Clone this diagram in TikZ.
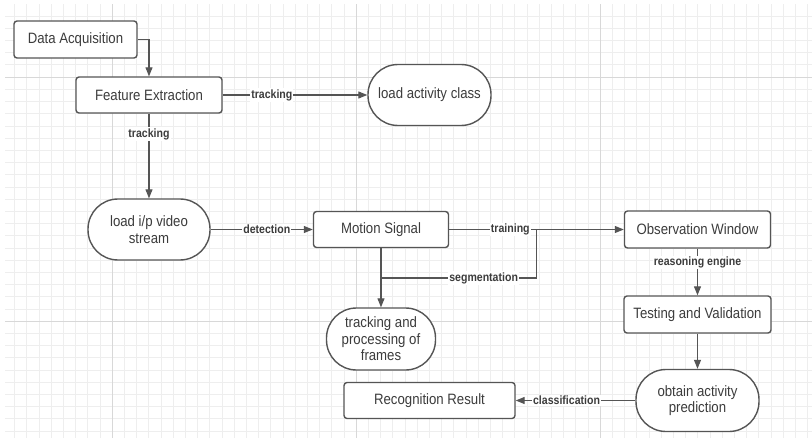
\documentclass[tikz,border=0pt]{standalone}
\usepackage{fontspec}
\setmainfont{Liberation Sans}[FakeStretch=0.88]
\usetikzlibrary{arrows.meta}
\definecolor{bord}{HTML}{555555}
\definecolor{txt}{HTML}{3C3C3C}
\definecolor{gminor}{HTML}{EEEEEE}
\definecolor{gmajor}{HTML}{D8D8D8}
\begin{document}
\begin{tikzpicture}[x=1pt,y=-1pt,
  box/.style={draw=bord, line width=1.4pt, rounded corners=3pt, fill=white, text=txt,
    font=\fontsize{15}{16.5}\selectfont, inner sep=0pt, align=center},
  term/.style={box, rounded corners=30pt},
  conn/.style={draw=bord, line width=1.1pt, -{Triangle[length=9pt,width=7pt]}},
  plain/.style={draw=bord, line width=1.1pt},
  lbl/.style={fill=white, text=txt, font=\bfseries\fontsize{12}{14}\selectfont, inner sep=1pt}]
\useasboundingbox (0,0) rectangle (812,444);
\fill[white] (0,0) rectangle (812,444);
\begin{scope}
\clip (5,5) rectangle (812,437);
\foreach \i in {0,...,66} \draw[gminor, line width=0.6pt] ({2.2+12.2*\i},0) -- ({2.2+12.2*\i},444);
\foreach \j in {0,...,36} \draw[gminor, line width=0.6pt] (0,{3.8+12.2*\j}) -- (812,{3.8+12.2*\j});
\foreach \x in {112,356,600} \draw[gmajor, line width=0.8pt] (\x,0) -- (\x,444);
\foreach \y in {77,321} \draw[gmajor, line width=0.8pt] (0,\y) -- (812,\y);
\end{scope}

\node[box, minimum width=123pt, minimum height=37pt] (da) at (75.5,39.5) {Data Acquisition};
\node[box, minimum width=146pt, minimum height=36pt] (fe) at (149,95) {Feature Extraction};
\node[term, minimum width=123pt, minimum height=61pt] (lac) at (429.5,95) {load activity class};
\node[term, minimum width=122pt, minimum height=61pt] (lip) at (149,229.5) {load i/p video\\stream};
\node[box, minimum width=135pt, minimum height=36pt] (ms) at (381,229.5) {Motion Signal};
\node[box, minimum width=146pt, minimum height=37pt] (ow) at (697.5,229.5) {Observation Window};
\node[term, minimum width=109pt, minimum height=62pt] (tpf) at (381,339) {tracking and\\processing of\\frames};
\node[box, minimum width=147pt, minimum height=37pt] (tv) at (697.5,314.5) {Testing and Validation};
\node[term, minimum width=123pt, minimum height=62pt] (oap) at (697.5,400.5) {obtain activity\\prediction};
\node[box, minimum width=171pt, minimum height=36pt] (rr) at (429.5,400.5) {Recognition Result};

\coordinate (br) at (536.5,229.5);
\coordinate (sj) at (381,278);

\draw[conn] (da.east) -| (fe.north);
\draw[conn] (fe) -- node[lbl,pos=0.34]{tracking} (lac);
\draw[conn] (fe) -- node[lbl,pos=0.24]{tracking} (lip);
\draw[conn] (lip) -- node[lbl,pos=0.55]{detection} (ms);
\draw[conn] (ms) -- node[lbl,pos=0.35]{training} (ow);
\draw[plain] (br) |- node[lbl,pos=0.67]{segmentation} (sj);
\draw[conn] (ms) -- (tpf);
\draw[conn] (ow) -- node[lbl,pos=0.29]{reasoning engine} (tv);
\draw[conn] (tv) -- (oap);
\draw[conn] (oap) -- node[lbl,pos=0.575]{classification} (rr);
\end{tikzpicture}
\end{document}
